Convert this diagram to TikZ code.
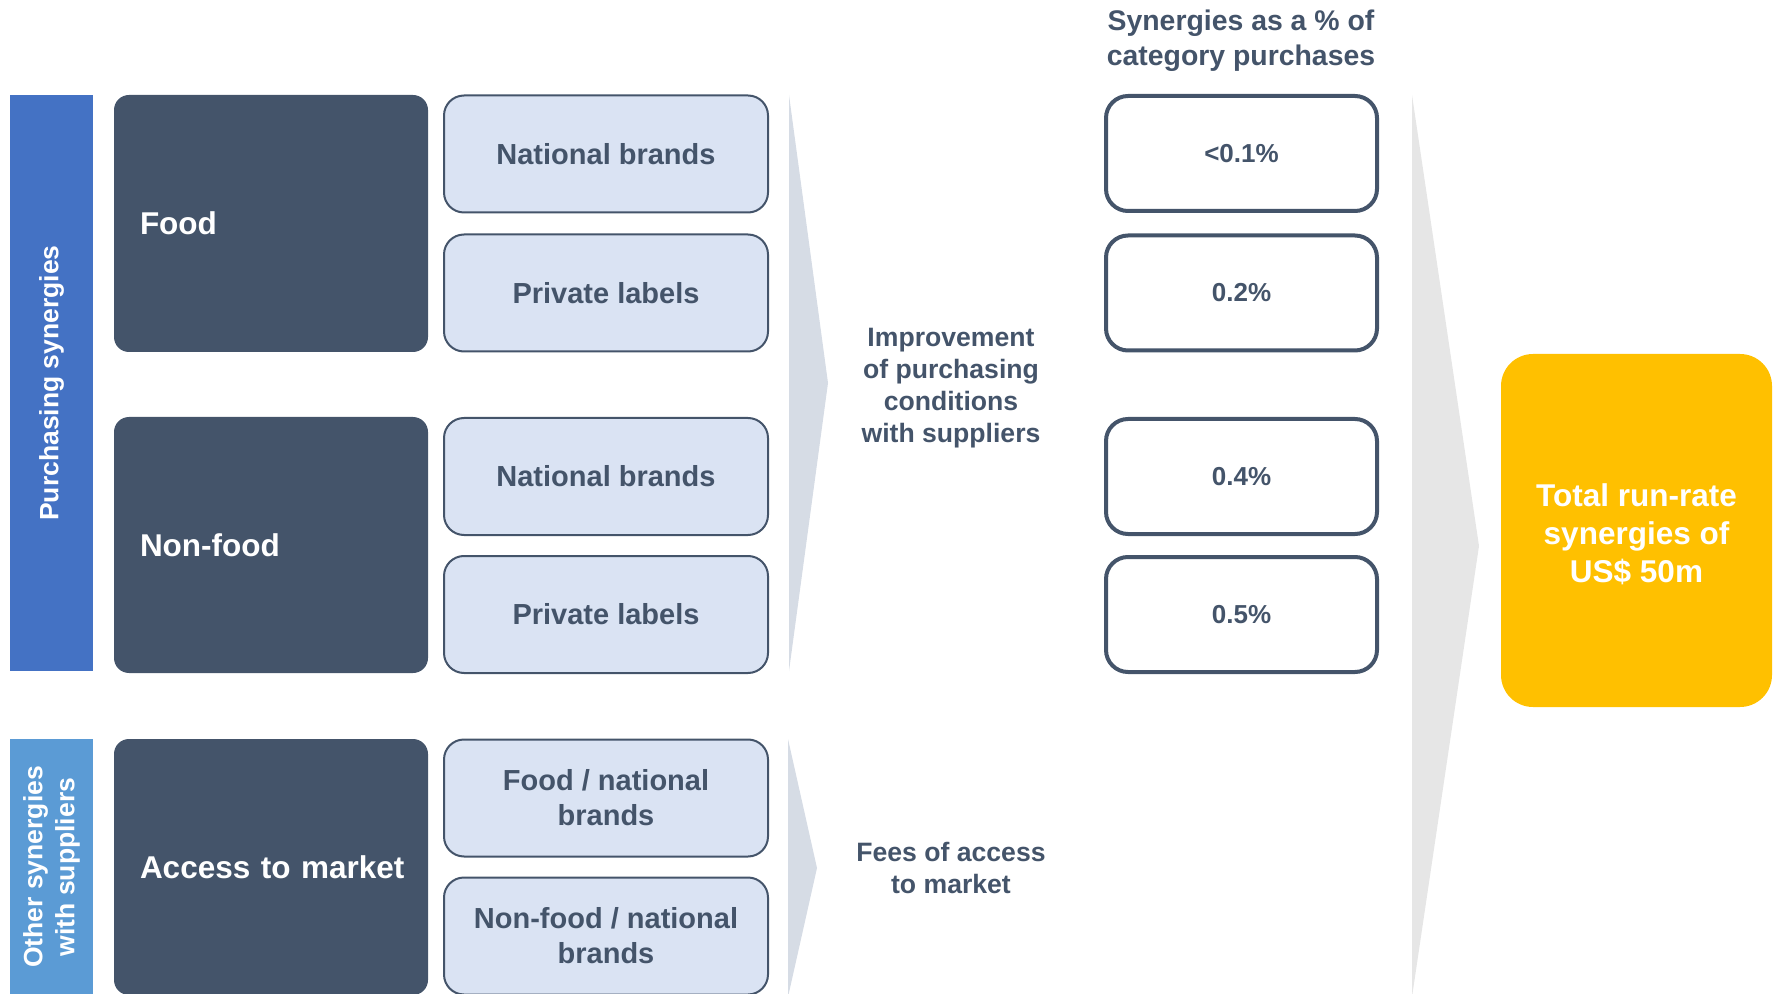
\documentclass[tikz,border=0pt]{standalone}
\usepackage{fontspec}
\setmainfont{Liberation Sans}
\definecolor{slate}{HTML}{44546A}
\definecolor{lightfill}{HTML}{DAE3F3}
\definecolor{barblue}{HTML}{4472C4}
\definecolor{barlight}{HTML}{5B9BD5}
\definecolor{chevblue}{HTML}{D6DCE5}
\definecolor{chevgrey}{HTML}{E6E6E6}
\definecolor{gold}{HTML}{FFC000}
\begin{document}
\begin{tikzpicture}[x=0.5pt,y=-0.5pt,
  sidebar/.style={inner sep=0pt, minimum width=41.5pt, text=white, rotate=90,
    font=\bfseries\fontsize{13.25}{16}\selectfont, align=center},
  darkbox/.style={fill=slate, rounded corners=7.5pt, inner xsep=0pt, inner ysep=0pt,
    minimum width=157pt, text width=131pt, align=left, text=white,
    font=\bfseries\fontsize{15.75}{19}\selectfont},
  lightbox/.style={fill=lightfill, draw=slate, line width=1pt, rounded corners=10pt,
    minimum width=162pt, minimum height=58.5pt, inner sep=0pt, text=slate, align=center,
    font=\bfseries\fontsize{14.5}{17.5}\selectfont},
  pctbox/.style={fill=white, draw=slate, line width=2pt, rounded corners=11pt,
    minimum width=135.5pt, minimum height=57.5pt, inner sep=0pt, text=slate,
    font=\bfseries\fontsize{13}{16}\selectfont},
  midtext/.style={text=slate, align=center, inner sep=0pt,
    font=\bfseries\fontsize{13.3}{16}\selectfont},
  headtext/.style={text=slate, align=center, inner sep=0pt,
    font=\bfseries\fontsize{14.2}{17.5}\selectfont},
  totalbox/.style={fill=gold, rounded corners=16pt, minimum width=135.5pt,
    minimum height=176.5pt, inner sep=0pt, text=white, align=center,
    font=\bfseries\fontsize{15.75}{19}\selectfont}]
\useasboundingbox (0,0) rectangle (1783,994);

% chevrons (background shapes)
\fill[chevblue] (789,95) -- (828,383) -- (789,671) -- cycle;
\fill[chevblue] (788,739) -- (817,868) -- (788,997) -- cycle;
\fill[chevgrey] (1412,95) -- (1479,546) -- (1412,997) -- cycle;

% side bars
\fill[barblue] (10,95) rectangle (93,671);
\node[sidebar] (purch) at (51.5,383) {Purchasing synergies};
\fill[barlight] (10,739) rectangle (93,994);
\node[sidebar] (other) at (51.5,867) {Other synergies\\with suppliers};

% dark category boxes
\node[darkbox, minimum height=128.5pt] (food) at (271,223.5) {Food};
\node[darkbox, minimum height=128pt] (nonfood) at (271,545) {Non-food};
\node[darkbox, minimum height=128pt] (access) at (271,867) {\mbox{Access to market}};

% light sub boxes
\node[lightbox] (nb1) at (606,154) {National brands};
\node[lightbox] (pl1) at (606,293) {Private labels};
\node[lightbox] (nb2) at (606,476.5) {National brands};
\node[lightbox] (pl2) at (606,614.5) {Private labels};
\node[lightbox] (fnb) at (606,798) {Food / national\\brands};
\node[lightbox] (nfnb) at (606,936) {Non-food / national\\brands};

% middle texts
\node[midtext] (impr) at (951,388.5) {Improvement\\of purchasing\\conditions\\with suppliers};
\node[midtext] (fees) at (951,867.5) {Fees of access\\to market};

% header and percentages
\node[headtext] (head) at (1241,41) {Synergies as a \% of\\category purchases};
\node[pctbox] (p1) at (1241.5,153.5) {<0.1\%};
\node[pctbox] (p2) at (1241.5,293) {0.2\%};
\node[pctbox] (p3) at (1241.5,476.5) {0.4\%};
\node[pctbox] (p4) at (1241.5,614.5) {0.5\%};

% total
\node[totalbox] (total) at (1636.5,530.5) {};
\node[text=white, align=center, inner sep=0pt,
  font=\bfseries\fontsize{15.75}{19}\selectfont] (totaltext) at (1636.5,534)
  {Total run-rate\\synergies of\\US\$ 50m};
\end{tikzpicture}
\end{document}
